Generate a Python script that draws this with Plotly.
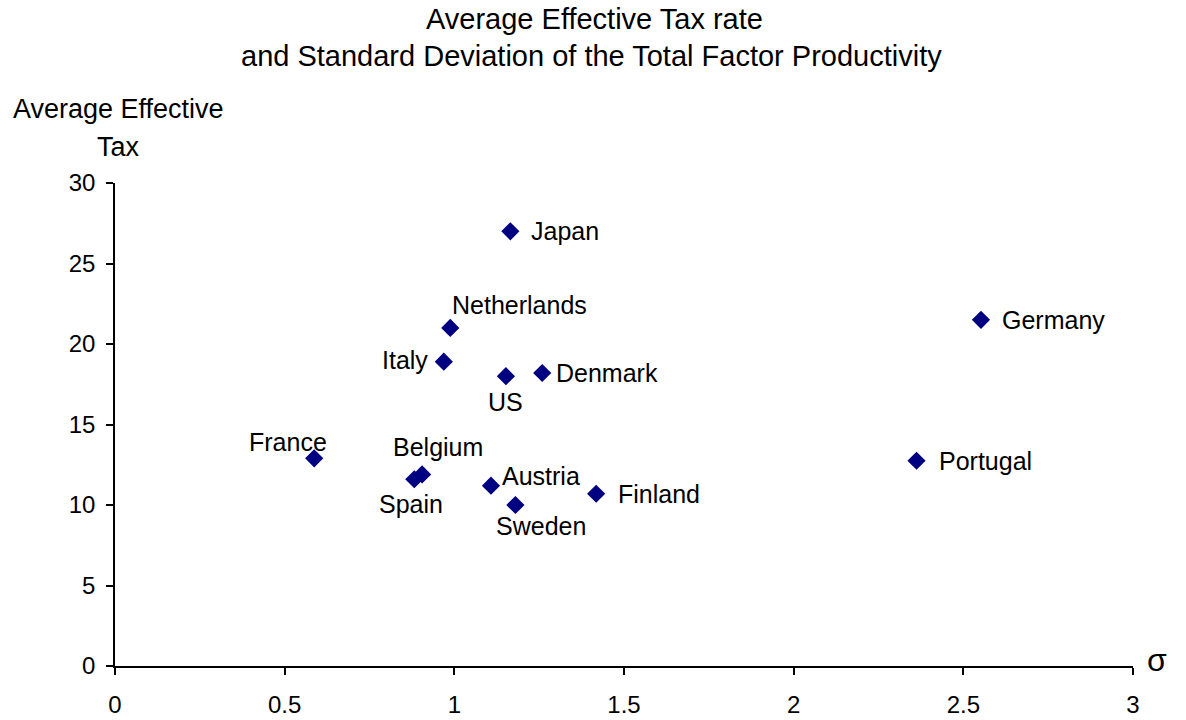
import plotly.graph_objects as go

countries = ["Japan", "Netherlands", "Germany", "Italy", "US", "Denmark", "France",
             "Belgium", "Spain", "Austria", "Sweden", "Finland", "Portugal"]
sigma = [1.165, 0.988, 2.552, 0.969, 1.152, 1.259, 0.587,
         0.905, 0.882, 1.108, 1.180, 1.418, 2.362]
aet = [27.0, 21.0, 21.5, 18.9, 18.0, 18.2, 12.9,
       11.9, 11.6, 11.2, 10.0, 10.7, 12.75]

x_ticks = [0, 0.5, 1, 1.5, 2, 2.5, 3]
y_ticks = [0, 5, 10, 15, 20, 25, 30]

# label placement (style only): xanchor, xshift, yshift
label_pos = {
    "Japan": ("left", 19, 0),
    "Netherlands": ("left", 0, 23),
    "Germany": ("left", 19, 0),
    "Italy": ("right", -14, 2),
    "US": ("center", 0, -26),
    "Denmark": ("left", 12, 0),
    "France": ("center", -26, 16),
    "Belgium": ("center", 16, 27),
    "Spain": ("center", -3, -25),
    "Austria": ("left", 9, 10),
    "Sweden": ("center", 26, -21),
    "Finland": ("left", 20, 0),
    "Portugal": ("left", 20, 0),
}

FONT = "Liberation Sans, Arial, sans-serif"

fig = go.Figure()
fig.add_trace(go.Scatter(
    x=sigma, y=aet, mode="markers", text=countries,
    marker=dict(symbol="diamond", size=14, color="#000080"),
    hoverinfo="text+x+y", showlegend=False,
))

annotations = []
for c, xv, yv in zip(countries, sigma, aet):
    xa, xs, ys = label_pos[c]
    annotations.append(dict(x=xv, y=yv, xref="x", yref="y", text=c, showarrow=False,
                            xanchor=xa, yanchor="middle", xshift=xs, yshift=ys,
                            font=dict(family=FONT, size=25, color="black")))

# page-pixel placed texts: (x, y, text, size)
page_texts = [
    (594, 19, "Average Effective Tax rate", 29),
    (591, 56, "and Standard Deviation of the Total Factor Productivity", 29),
    (118, 109, "Average Effective", 27),
    (118, 147, "Tax", 27),
    (1157, 660, "σ", 32),
]

W, H = 1186, 720
PX0, PX1, PY0, PY1 = 115, 1133, 183, 666  # plot area in page pixels
L, R = PX0, W - PX1
T, B = PY0, H - PY1
for px, py, t, s in page_texts:
    annotations.append(dict(x=(px - PX0) / (PX1 - PX0), y=(PY1 - py) / (PY1 - PY0),
                            xref="paper", yref="paper", text=t, showarrow=False,
                            xanchor="center", yanchor="middle",
                            font=dict(family=FONT, size=s, color="black")))

fig.update_layout(
    width=W, height=H,
    margin=dict(l=L, r=R, t=T, b=B, autoexpand=False),
    paper_bgcolor="white", plot_bgcolor="white",
    font=dict(family=FONT, size=24, color="black"),
    annotations=annotations,
    xaxis=dict(range=[0, 3], tickvals=x_ticks, ticktext=[str(v) for v in x_ticks],
               showgrid=False, zeroline=False, showline=True, linecolor="black", linewidth=1.5,
               ticks="outside", ticklen=7, tickcolor="black", tickwidth=1.5, automargin=False,
               tickfont=dict(size=24), ticklabelstandoff=9, fixedrange=True),
    yaxis=dict(range=[0, 30], tickvals=y_ticks, showgrid=False, zeroline=False,
               showline=True, linecolor="black", linewidth=1.5, automargin=False,
               ticks="outside", ticklen=7, tickcolor="black", tickwidth=1.5,
               tickfont=dict(size=24), ticklabelstandoff=6, fixedrange=True),
)

fig.write_html("out.html", config={"displayModeBar": False},
               post_script="document.body.style.margin='0';document.body.style.overflow='hidden';")
